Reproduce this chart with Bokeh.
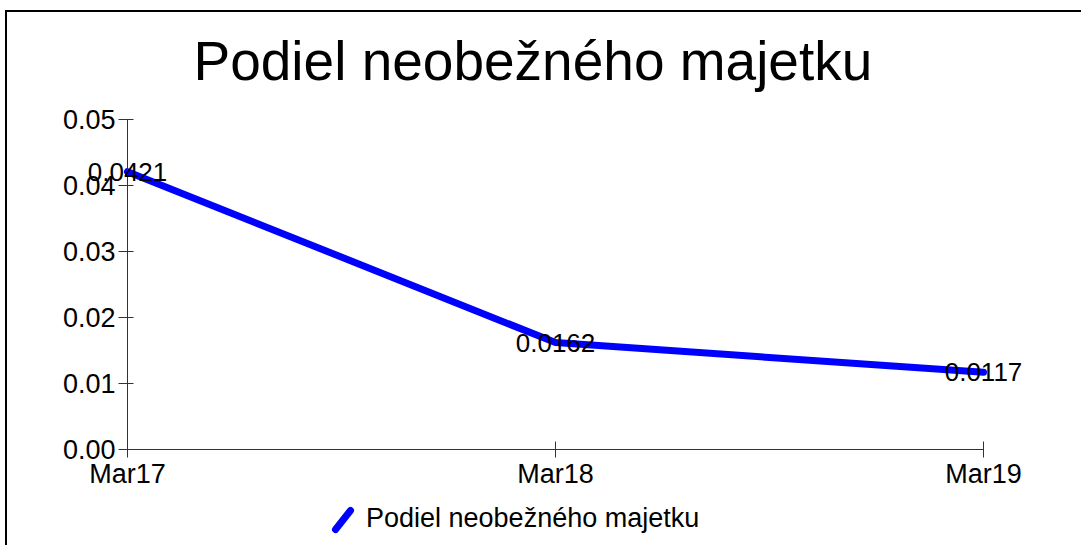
import math
from bokeh.plotting import figure
from bokeh.models import (ColumnDataSource, FixedTicker, Legend, LegendItem, Title, Label,
                          Range1d, Arrow)
from bokeh.embed import file_html
from bokeh.resources import INLINE

categories = ["Mar17", "Mar18", "Mar19"]
values = [0.0421, 0.0162, 0.0117]
value_labels = ["0.0421", "0.0162", "0.0117"]
y_ticks = [0.0, 0.01, 0.02, 0.03, 0.04, 0.05]
y_tick_labels = ["0.00", "0.01", "0.02", "0.03", "0.04", "0.05"]
series_name = "Podiel neobežného majetku"
title_text = "Podiel neobežného majetku"

FONT = "Liberation Sans"
BLUE = "#0000FF"
xs = list(range(len(categories)))
src = ColumnDataSource(dict(x=xs, y=values, lab=value_labels))

# pixel geometry: axes pinned at 0 with bounds, frame covers canvas below the title
PX_X = 428.0 / 1.0      # px per category step
PX_Y = 330.0 / 0.05     # px per value unit
x_start = -120.0 / PX_X
x_end = (len(categories) - 1) + 100.0 / PX_X
y_start = -98.0 / PX_Y
y_end = 0.05 + 22.0 / PX_Y

p = figure(width=1076, height=535, output_backend="svg", toolbar_location=None,
           x_range=Range1d(x_start, x_end), y_range=Range1d(y_start, y_end),
           min_border_left=0, min_border_right=0, min_border_top=85, min_border_bottom=0,
           title=None)
p.styles = {"border-left": "2px solid black", "border-top": "2px solid black",
            "margin-left": "5px", "margin-top": "10px"}
p.outline_line_color = None
p.xgrid.visible = False
p.ygrid.visible = False

t = Title(text=title_text, text_font=FONT, text_font_size="55px", text_font_style="normal",
          text_color="black", align="left", offset=186, standoff=11)
p.add_layout(t, "above")

line = p.line("x", "y", source=src, line_color=BLUE, line_width=7,
              line_join="round", line_cap="round")

for xv, yv, lab in zip(xs, values, value_labels):
    p.add_layout(Label(x=xv, y=yv, text=lab, text_align="center", text_baseline="middle",
                       text_font=FONT, text_font_size="26px", text_color="black"))

# legend: text from a Legend with an invisible key; slanted key drawn as a short stroke
dummy = p.scatter(x=[-100], y=[-100], marker="dash", size=20, line_alpha=0, fill_alpha=0)
legend = Legend(items=[LegendItem(label=series_name, renderers=[dummy])],
                location=(323, 13), border_line_color=None, background_fill_alpha=0,
                label_text_font=FONT, label_text_font_size="27px", label_text_color="black",
                glyph_width=24, glyph_height=28, label_standoff=12, padding=0, margin=0)
p.add_layout(legend, "center")

key = Arrow(end=None, x_start=208.0 / PX_X, y_start=-80.0 / PX_Y,
            x_end=223.0 / PX_X, y_end=-61.0 / PX_Y,
            line_color=BLUE, line_width=7, line_cap="round")
p.add_layout(key)

for ax in (p.xaxis[0], p.yaxis[0]):
    ax.axis_line_color = "#333333"
    ax.major_tick_line_color = "#333333"
    ax.minor_tick_line_color = None
    ax.major_label_text_font = FONT
    ax.major_label_text_font_size = "27px"
    ax.major_label_text_color = "black"
    ax.fixed_location = 0

p.xaxis.bounds = (0, len(categories) - 1)
p.xaxis.ticker = FixedTicker(ticks=xs)
p.xaxis.major_label_overrides = {i: c for i, c in zip(xs, categories)}
p.xaxis.major_tick_in = 8
p.xaxis.major_tick_out = 8
p.xaxis.major_label_standoff = 1

p.yaxis.bounds = (y_ticks[0], y_ticks[-1])
p.yaxis.ticker = FixedTicker(ticks=y_ticks)
p.yaxis.major_label_overrides = {v: s for v, s in zip(y_ticks, y_tick_labels)}
p.yaxis.major_tick_in = 6
p.yaxis.major_tick_out = 9
p.yaxis.major_label_standoff = 3

open("out.html", "w").write(file_html(p, INLINE))
